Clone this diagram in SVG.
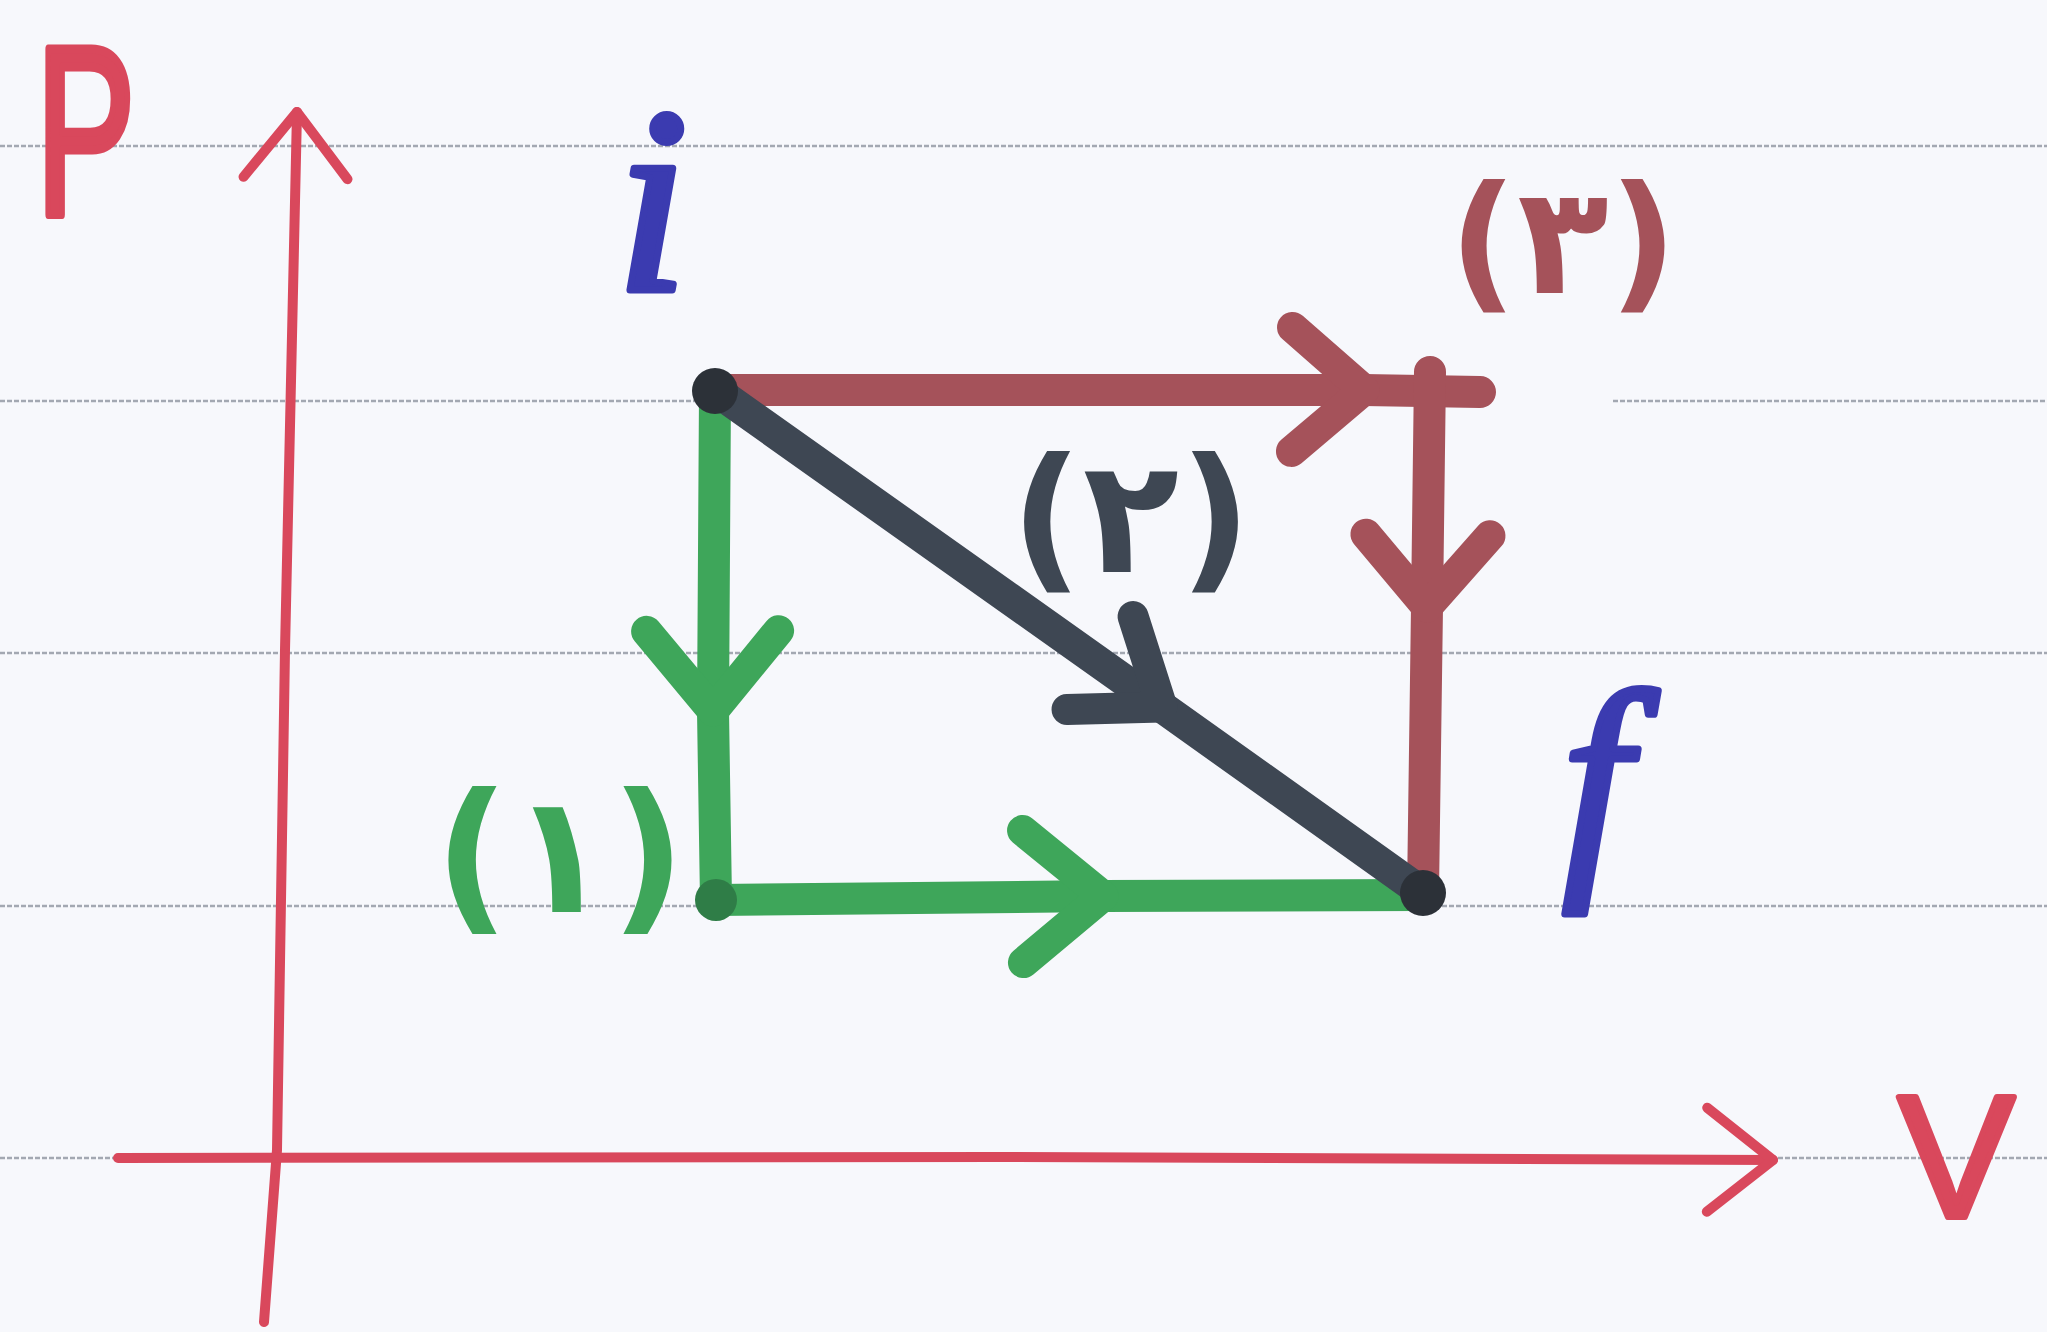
<svg xmlns="http://www.w3.org/2000/svg" width="2047" height="1332" viewBox="0 0 2047 1332">
<style>
.rule{stroke:#a3a8b2;stroke-width:2.5;stroke-dasharray:5 2;fill:none}
.axis{stroke:#d9485c;stroke-width:10;fill:none;stroke-linecap:round;stroke-linejoin:round}
.proc{stroke-width:32;fill:none;stroke-linecap:round;stroke-linejoin:round}
.g{stroke:#3ea65a}
.r{stroke:#a5525a}
.d{stroke:#3e4753}
.lbl{font-family:"DejaVu Sans",sans-serif;font-weight:bold;text-anchor:middle}
.hand{font-family:"Liberation Serif",serif;font-style:italic;fill:#3b3bb0;stroke:#3b3bb0;stroke-width:7;stroke-linejoin:round;text-anchor:middle}
.ax{font-family:"Liberation Sans",sans-serif;fill:#d9485c;stroke:#d9485c;stroke-linejoin:round}
</style>
<defs>
<marker id="axArrow" markerUnits="userSpaceOnUse" markerWidth="200" markerHeight="200" viewBox="-100 -100 200 200" refX="0" refY="0" orient="auto" overflow="visible">
<path d="M-66,-52 L0,0 L-66,52" fill="none" stroke="#d9485c" stroke-width="10" stroke-linecap="round" stroke-linejoin="round"/>
</marker>
<marker id="chevG" markerUnits="userSpaceOnUse" markerWidth="240" markerHeight="240" viewBox="-120 -120 240 240" refX="0" refY="0" orient="auto" overflow="visible">
<path d="M-80,-66 L0,0 L-80,66" fill="none" stroke="#3ea65a" stroke-width="31" stroke-linecap="round" stroke-linejoin="round"/>
</marker>
<marker id="chevR" markerUnits="userSpaceOnUse" markerWidth="240" markerHeight="240" viewBox="-120 -120 240 240" refX="0" refY="0" orient="auto" overflow="visible">
<path d="M-72,-62 L0,0 L-72,62" fill="none" stroke="#a5525a" stroke-width="31" stroke-linecap="round" stroke-linejoin="round"/>
</marker>
<marker id="chevD" markerUnits="userSpaceOnUse" markerWidth="240" markerHeight="240" viewBox="-120 -120 240 240" refX="0" refY="0" orient="auto" overflow="visible">
<path d="M-76,-57 L0,0 L-76,57" fill="none" stroke="#3e4753" stroke-width="31" stroke-linecap="round" stroke-linejoin="round"/>
</marker>
</defs>
<rect width="2047" height="1332" fill="#f7f8fc"/>
<g id="ruled-lines">
<line class="rule" x1="0" y1="146" x2="2047" y2="146"/>
<line class="rule" x1="0" y1="401" x2="1483" y2="401"/>
<line class="rule" x1="1613" y1="401" x2="2047" y2="401"/>
<line class="rule" x1="0" y1="653" x2="2047" y2="653"/>
<line class="rule" x1="0" y1="906" x2="2047" y2="906"/>
<line class="rule" x1="0" y1="1158" x2="2047" y2="1158"/>
</g>
<g id="axes">
<path class="axis" d="M264,1322 L277,1150 L285,650 L297,112" marker-end="url(#axArrow)"/>
<path class="axis" d="M118,1158 L1000,1157 L1773,1160" marker-end="url(#axArrow)"/>
<text class="ax" font-size="240" stroke-width="9" transform="translate(36,214) scale(0.62,1)">P</text>
<text class="ax" font-size="175" stroke-width="6" x="1898" y="1217">V</text>
</g>
<g id="connectors">
<path id="path1-down" class="proc g" d="M715,392 L713,711 L716,900" marker-mid="url(#chevG)"/>
<path id="path1-right" class="proc g" d="M716,900 L1103,896 L1423,895" marker-mid="url(#chevG)"/>
<path id="path3-right" class="proc r" d="M715,390 L1364,390 L1480,392" marker-mid="url(#chevR)"/>
<path id="path3-down" class="proc r" d="M1430,372 L1427,607 L1423,893" marker-mid="url(#chevR)"/>
<path id="path2-diag" class="proc d" d="M715,390 L1162,707 L1423,893" marker-mid="url(#chevD)"/>
</g>
<g id="node-i">
<circle cx="715" cy="391" r="23" fill="#2c3138"/>
<text class="hand" font-size="265" x="652" y="290">i</text>
</g>
<g id="node-f">
<circle cx="1423" cy="893" r="23" fill="#2c3138"/>
<text class="hand" font-size="245" x="1596" y="862">f</text>
</g>
<g id="node-corner">
<circle cx="716" cy="900" r="21" fill="#2f7d47"/>
</g>
<g id="label-1">
<text class="lbl" font-size="165" x="560" y="912" fill="#3ea65a">(۱)</text>
</g>
<g id="label-2">
<text class="lbl" font-size="158" x="1131" y="572" fill="#3e4753">(۲)</text>
</g>
<g id="label-3">
<text class="lbl" font-size="150" x="1563" y="293" fill="#a5525a">(۳)</text>
</g>
</svg>
